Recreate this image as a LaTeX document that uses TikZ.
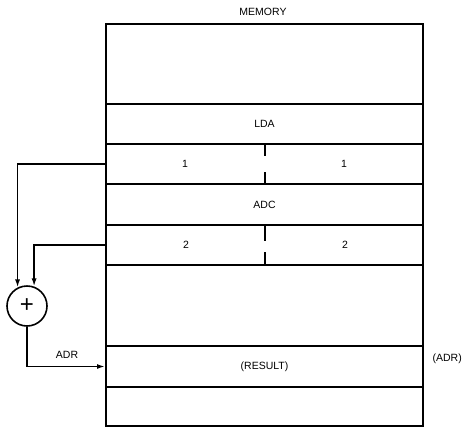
\documentclass[tikz,border=0pt]{standalone}
\usepackage{fontspec}
\setmainfont{Liberation Sans}
\usetikzlibrary{arrows.meta}
\begin{document}
\begin{tikzpicture}[x=1pt,y=-1pt,
  row/.style={draw, line width=2pt, minimum width=317pt, inner sep=0pt, font=\fontsize{10.5}{12}\selectfont},
  txt/.style={inner sep=0pt, font=\fontsize{10.5}{12}\selectfont},
  conn/.style={line width=1.6pt},
  arr/.style={conn, -{Latex[length=8pt,width=5pt]}}]
\useasboundingbox (0,0) rectangle (463,429);
\node[txt] (mem) at (263,12) {MEMORY};
\node[row, minimum height=80pt] (r0) at (264.5,64) {};
\node[row, minimum height=40pt] (r1) at (264.5,124) {LDA};
\node[row, minimum height=40pt] (r2) at (264.5,164) {};
\node[row, minimum height=41pt] (r3) at (264.5,204.5) {ADC};
\node[row, minimum height=40pt] (r4) at (264.5,245) {};
\node[row, minimum height=81pt] (r5) at (264.5,305.5) {};
\node[row, minimum height=41pt] (r6) at (264.5,366.5) {(RESULT)};
\node[row, minimum height=39pt] (r7) at (264.5,406.5) {};
\draw[line width=2pt, dash pattern=on 13pt off 16pt on 11pt] (r2.north) -- (r2.south);
\draw[line width=2pt, dash pattern=on 17pt off 11pt on 12pt] (r4.north) -- (r4.south);
\node[txt] (a1) at (185,164) {1};
\node[txt] (b1) at (344,164) {1};
\node[txt] (a2) at (186,245) {2};
\node[txt] (b2) at (345,245) {2};
\node[txt, anchor=east] (adr) at (462,359) {(ADR)};
\node[circle, draw, line width=1.6pt, minimum size=40pt, inner sep=0pt] (sum) at (27,306) {\fontsize{24}{24}\selectfont +};
\draw[arr] (r2.west) -| (sum.117);
\draw[arr] (r4.west) -| (sum.70);
\draw[arr] (sum.south) |- (r6.west);
\node[txt] (adrl) at (67,355) {ADR};
\end{tikzpicture}
\end{document}
